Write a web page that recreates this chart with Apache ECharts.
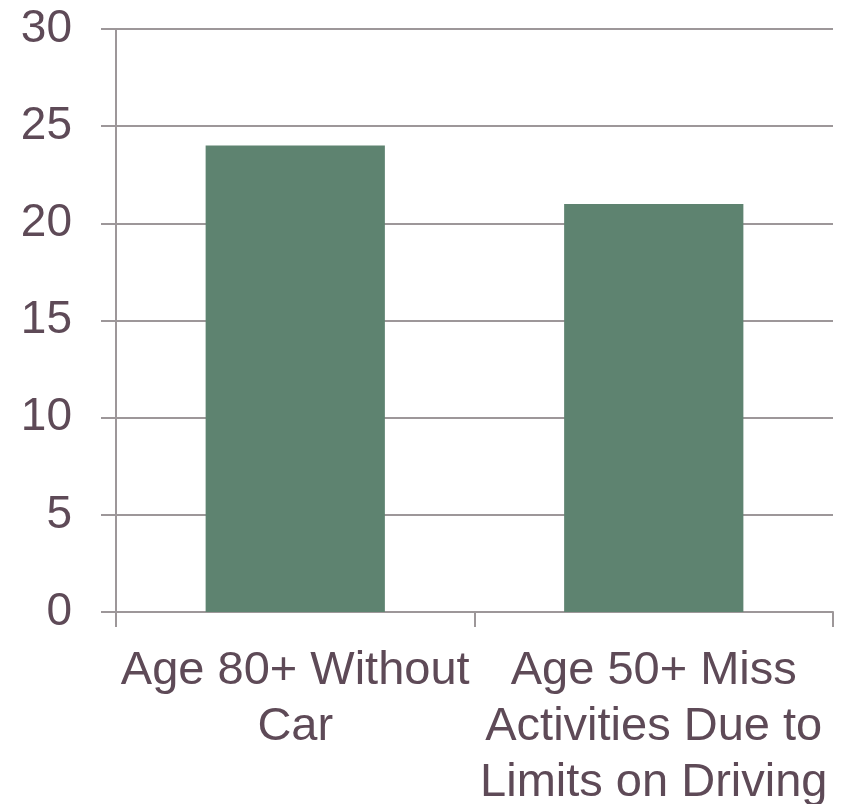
<!DOCTYPE html>
<html><head><meta charset="utf-8">
<script src="https://cdn.jsdelivr.net/npm/echarts@6/dist/echarts.min.js"></script>
<style>html,body{margin:0;padding:0;background:#fff}#c{width:846px;height:804px}</style>
</head><body><div id="c"></div>
<script>
const categories = ["Age 80+ Without\nCar", "Age 50+ Miss\nActivities Due to\nLimits on Driving"];
const values = [24, 21];
const yTicks = {min: 0, max: 30, interval: 5};

const txt = '#5E4A57';
const ax = '#9D9799';
const chart = echarts.init(document.getElementById('c'));
chart.setOption({
  animation: false,
  grid: {left: 116, right: 13, top: 29, bottom: 192, containLabel: false, outerBoundsMode: 'none'},
  xAxis: {
    type: 'category', data: categories,
    axisLine: {lineStyle: {color: ax, width: 2}},
    axisTick: {show: true, length: 15, lineStyle: {color: ax, width: 2}},
    axisLabel: {color: txt, fontFamily: 'Liberation Sans, Arial', fontSize: 47, lineHeight: 56, margin: 31, interval: 0}
  },
  yAxis: {
    type: 'value', min: yTicks.min, max: yTicks.max, interval: yTicks.interval,
    axisLine: {show: true, lineStyle: {color: ax, width: 2}},
    axisTick: {show: true, length: 15, lineStyle: {color: ax, width: 2}},
    splitLine: {show: true, lineStyle: {color: ax, width: 2}},
    axisLabel: {color: txt, fontFamily: 'Liberation Sans, Arial', fontSize: 46, margin: 44}
  },
  series: [{type: 'bar', data: values, barWidth: '50%', itemStyle: {color: '#5E8370'}}]
});
</script></body></html>
